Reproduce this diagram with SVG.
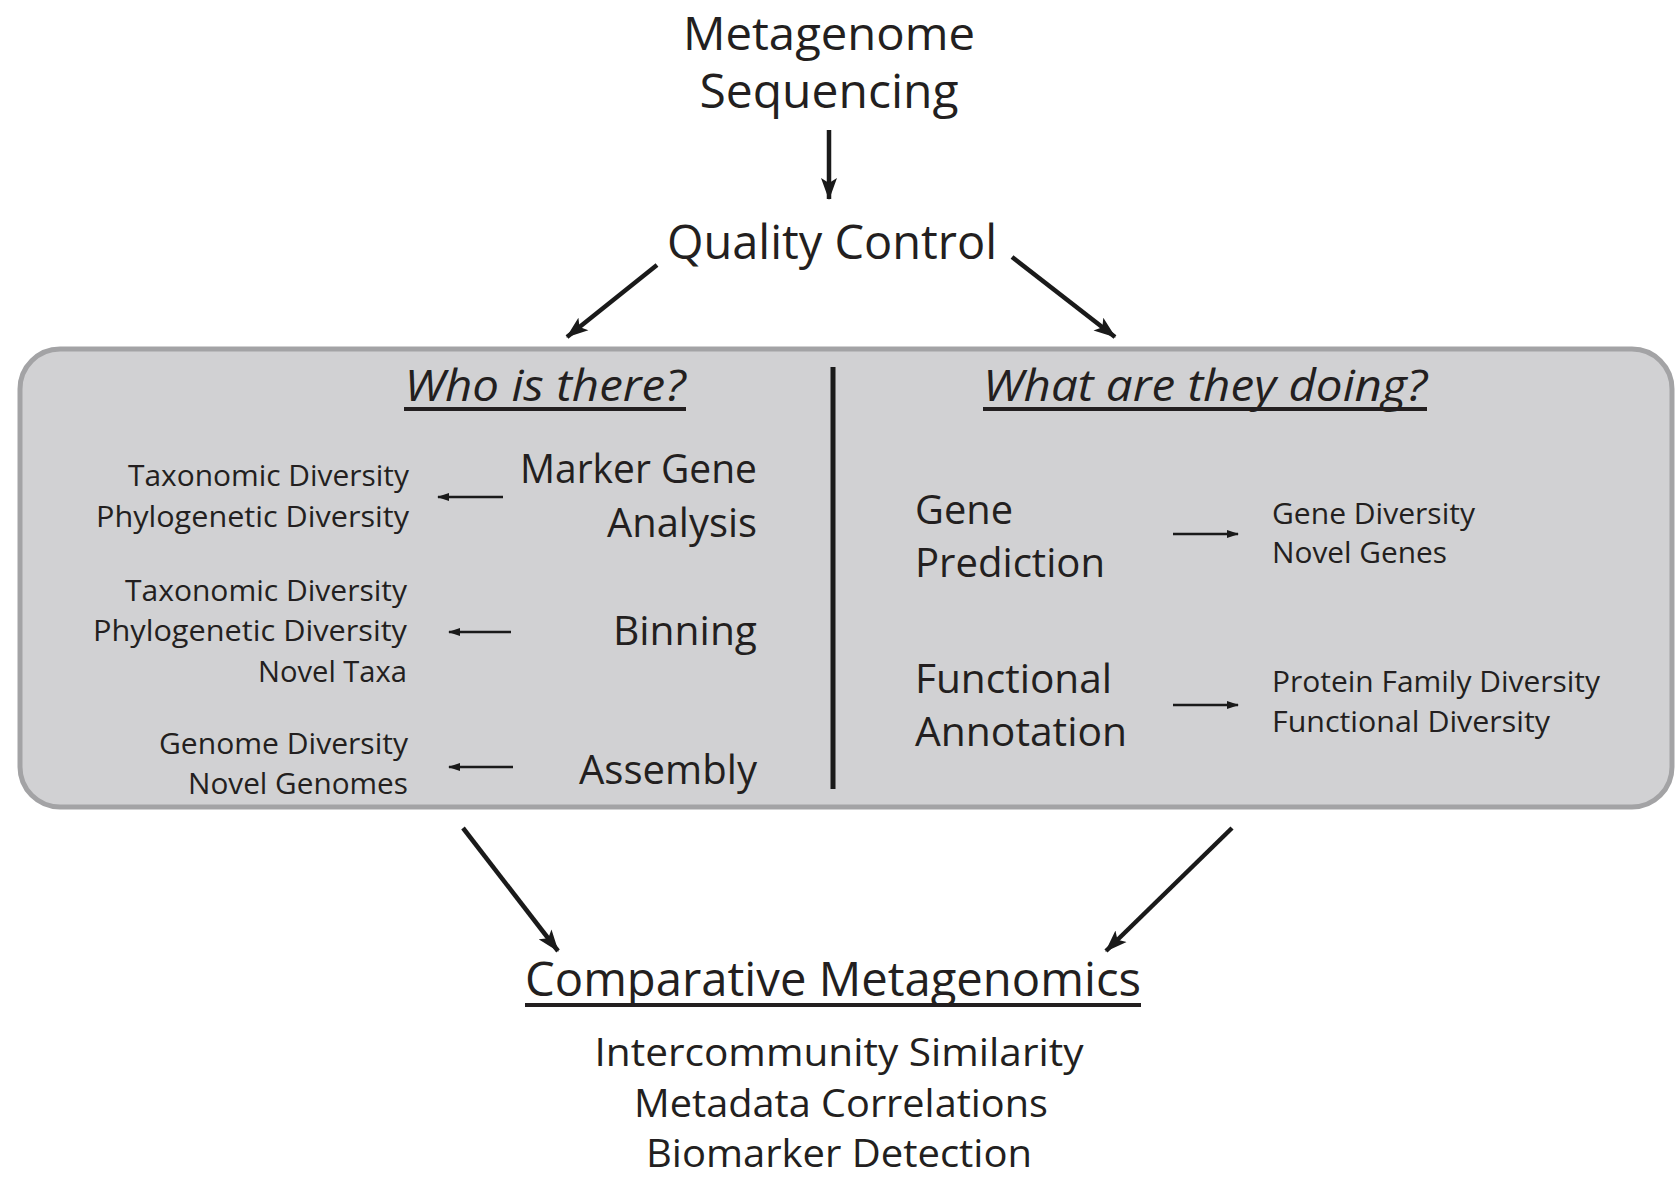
<svg xmlns="http://www.w3.org/2000/svg" width="1676" height="1180" viewBox="0 0 1676 1180">
<style>
text{font-family:"Open Sans","Noto Sans","Liberation Sans",sans-serif;fill:#231f20}
.big{font-size:48px}
.top{font-size:46px}
.hd{font-size:44px;font-style:italic}
.med{font-size:41px}
.lst{font-size:39px}
.sm{font-size:29px}
.mid{text-anchor:middle}
.end{text-anchor:end}
.ul{stroke:#231f20;stroke-width:4}
.conn{stroke:#1a1a1a;fill:none}
.thick{stroke-width:4.5;marker-end:url(#ah)}
.thin{stroke-width:2.6;marker-end:url(#sh)}
</style>
<defs>
<marker id="ah" markerUnits="userSpaceOnUse" markerWidth="22" markerHeight="18" viewBox="0 0 22 18" refX="21" refY="9" orient="auto"><path d="M0,1 L22,9 L0,17 L5,9 Z" fill="#1a1a1a"/></marker>
<marker id="sh" markerUnits="userSpaceOnUse" markerWidth="12" markerHeight="10" viewBox="0 0 12 10" refX="11" refY="5" orient="auto"><path d="M0,1 L12,5 L0,9 Z" fill="#1a1a1a"/></marker>
</defs>
<rect width="1676" height="1180" fill="#ffffff"/>
<g id="panel">
<rect x="20" y="349" width="1652" height="458" rx="40" fill="#d1d1d3" stroke="#a3a3a5" stroke-width="5"/>
<line x1="833" y1="367" x2="833" y2="789" stroke="#1a1a1a" stroke-width="5"/>
</g>
<g id="n-seq"><text class="top mid" x="829" y="50" textLength="292" lengthAdjust="spacingAndGlyphs">Metagenome</text><text class="big mid" x="829" y="108" textLength="259" lengthAdjust="spacingAndGlyphs">Sequencing</text></g>
<g id="n-qc"><text class="big mid" x="832" y="259" textLength="330" lengthAdjust="spacingAndGlyphs">Quality Control</text></g>
<g id="n-who"><text class="hd mid" x="545" y="401" textLength="281" lengthAdjust="spacingAndGlyphs">Who is there?</text><line class="ul" x1="404" y1="409" x2="686" y2="409"/></g>
<g id="n-what"><text class="hd mid" x="1205" y="401" textLength="444" lengthAdjust="spacingAndGlyphs">What are they doing?</text><line class="ul" x1="983" y1="409" x2="1427" y2="409"/></g>
<g id="n-marker"><text class="med end" x="757" y="483" textLength="237" lengthAdjust="spacingAndGlyphs">Marker Gene</text><text class="med end" x="757" y="537" textLength="150" lengthAdjust="spacingAndGlyphs">Analysis</text></g>
<g id="n-marker-out"><text class="sm end" x="409" y="486" textLength="281" lengthAdjust="spacingAndGlyphs">Taxonomic Diversity</text><text class="sm end" x="409" y="527" textLength="313" lengthAdjust="spacingAndGlyphs">Phylogenetic Diversity</text></g>
<g id="n-binning"><text class="med end" x="757" y="645" textLength="144" lengthAdjust="spacingAndGlyphs">Binning</text></g>
<g id="n-binning-out"><text class="sm end" x="407" y="601" textLength="282" lengthAdjust="spacingAndGlyphs">Taxonomic Diversity</text><text class="sm end" x="407" y="641" textLength="314" lengthAdjust="spacingAndGlyphs">Phylogenetic Diversity</text><text class="sm end" x="407" y="682" textLength="149" lengthAdjust="spacingAndGlyphs">Novel Taxa</text></g>
<g id="n-assembly"><text class="med end" x="757" y="784" textLength="178" lengthAdjust="spacingAndGlyphs">Assembly</text></g>
<g id="n-assembly-out"><text class="sm end" x="408" y="754" textLength="249" lengthAdjust="spacingAndGlyphs">Genome Diversity</text><text class="sm end" x="408" y="794" textLength="220" lengthAdjust="spacingAndGlyphs">Novel Genomes</text></g>
<g id="n-genepred"><text class="med" x="915" y="524" textLength="98" lengthAdjust="spacingAndGlyphs">Gene</text><text class="med" x="915" y="577" textLength="190" lengthAdjust="spacingAndGlyphs">Prediction</text></g>
<g id="n-genepred-out"><text class="sm" x="1272" y="524" textLength="203" lengthAdjust="spacingAndGlyphs">Gene Diversity</text><text class="sm" x="1272" y="563" textLength="175" lengthAdjust="spacingAndGlyphs">Novel Genes</text></g>
<g id="n-func"><text class="med" x="915" y="693" textLength="197" lengthAdjust="spacingAndGlyphs">Functional</text><text class="med" x="915" y="746" textLength="212" lengthAdjust="spacingAndGlyphs">Annotation</text></g>
<g id="n-func-out"><text class="sm" x="1272" y="692" textLength="328" lengthAdjust="spacingAndGlyphs">Protein Family Diversity</text><text class="sm" x="1272" y="732" textLength="278" lengthAdjust="spacingAndGlyphs">Functional Diversity</text></g>
<g id="n-comp"><text class="big mid" x="833" y="996" textLength="616" lengthAdjust="spacingAndGlyphs">Comparative Metagenomics</text><line class="ul" x1="525" y1="1005" x2="1141" y2="1005"/><text class="lst mid" x="839" y="1066" textLength="489" lengthAdjust="spacingAndGlyphs">Intercommunity Similarity</text><text class="lst mid" x="841" y="1117" textLength="414" lengthAdjust="spacingAndGlyphs">Metadata Correlations</text><text class="lst mid" x="839" y="1167" textLength="386" lengthAdjust="spacingAndGlyphs">Biomarker Detection</text></g>
<g id="connectors">
<line class="conn thick" x1="829" y1="130" x2="829" y2="199"/>
<line class="conn thick" x1="657" y1="265" x2="567" y2="337"/>
<line class="conn thick" x1="1012" y1="257" x2="1115" y2="337"/>
<line class="conn thick" x1="463" y1="828" x2="558" y2="951"/>
<line class="conn thick" x1="1232" y1="828" x2="1106" y2="951"/>
<line class="conn thin" x1="503" y1="497" x2="438" y2="497"/>
<line class="conn thin" x1="511" y1="632" x2="449" y2="632"/>
<line class="conn thin" x1="513" y1="767" x2="449" y2="767"/>
<line class="conn thin" x1="1173" y1="534" x2="1238" y2="534"/>
<line class="conn thin" x1="1173" y1="705" x2="1238" y2="705"/>
</g>
</svg>
